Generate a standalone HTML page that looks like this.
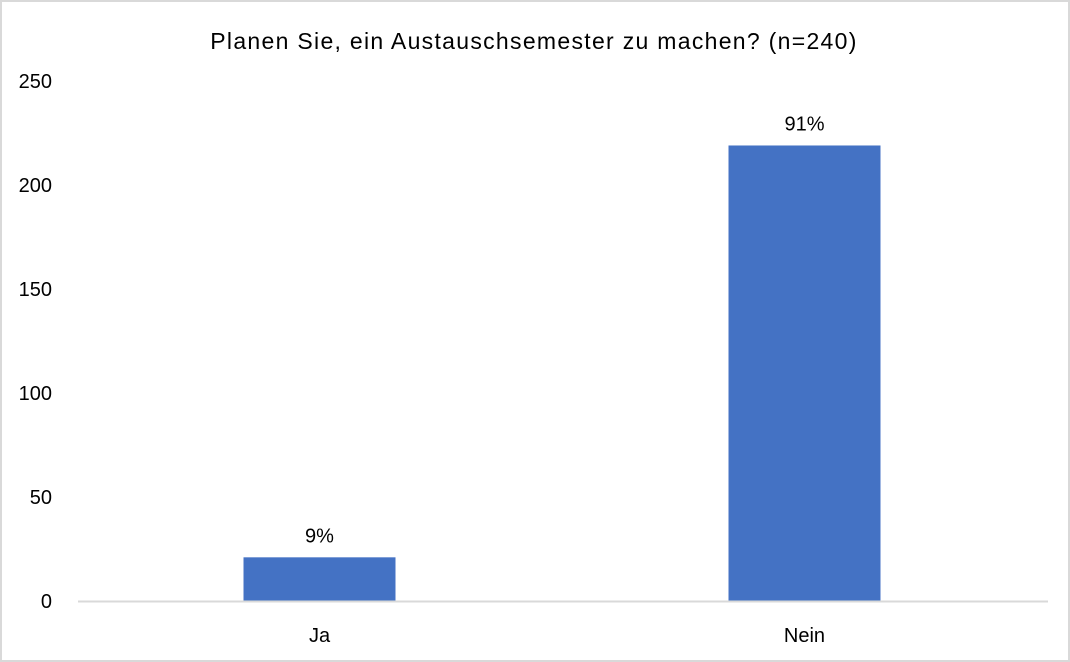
<!DOCTYPE html>
<html><head><meta charset="utf-8"><style>
body{margin:0;background:#fff;}
svg{display:block;font-family:"Liberation Sans",sans-serif;}
</style></head><body>
<svg id="chart" width="1070" height="662" xmlns="http://www.w3.org/2000/svg">
<rect x="1" y="1" width="1068" height="660" fill="#fff" stroke="#d9d9d9" stroke-width="2"/>
<text x="534" y="49" text-anchor="middle" font-size="23" letter-spacing="1.3" fill="#000">Planen Sie, ein Austauschsemester zu machen?  (n=240)</text>
<g id="plot"></g>
</svg>
<script>
const categories = ["Ja", "Nein"];
const values = [21, 219];
const labels = ["9%", "91%"];
const ticks = [0, 50, 100, 150, 200, 250];

const x0 = 78, x1 = 1048, y0 = 601, yTop = 81, maxV = 250;
const y = v => y0 - (v / maxV) * (y0 - yTop);
const band = (x1 - x0) / categories.length;
const xc = i => x0 + band * (i + 0.5);
const bw = 152;
const g = document.getElementById('plot');
const NS = "http://www.w3.org/2000/svg";
function mk(tag, attrs, txt) {
  const e = document.createElementNS(NS, tag);
  for (const k in attrs) e.setAttribute(k, attrs[k]);
  if (txt !== undefined) e.textContent = txt;
  g.appendChild(e);
  return e;
}
ticks.forEach(t => {
  const e = mk('text', {x: 52, y: y(t) + 7, 'text-anchor': 'end', 'font-size': 20, fill: '#000'}, String(t));
  
  
});
categories.forEach((c, i) => {
  const r = mk('rect', {x: xc(i) - bw / 2 - 1, y: y(values[i]), width: bw, height: y0 - y(values[i]), fill: '#4472c4'});
  
  
  const l = mk('text', {x: xc(i) - 1, y: y(values[i]) - 15, 'text-anchor': 'middle', 'font-size': 20, fill: '#000'}, labels[i]);
  
  
  const cl = mk('text', {x: xc(i) - 1, y: 642, 'text-anchor': 'middle', 'font-size': 20, fill: '#000'}, c);
  
  
});
const ax = mk('line', {x1: x0, x2: x1, y1: y0 + 0.5, y2: y0 + 0.5, stroke: '#d9d9d9', 'stroke-width': 2});


</script>
</body></html>
